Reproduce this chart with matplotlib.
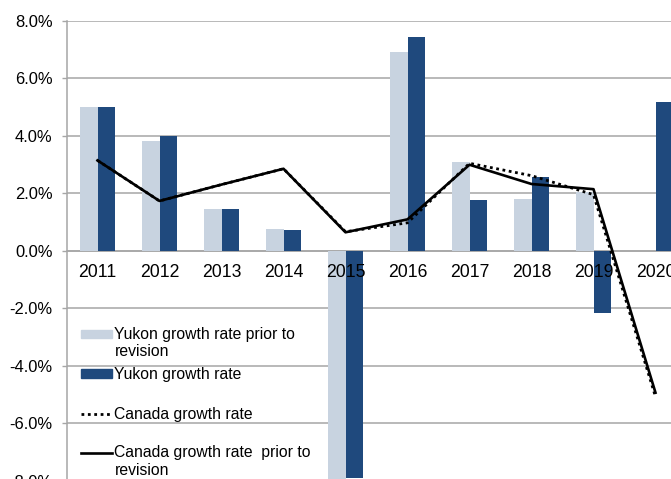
import numpy as np
import matplotlib
matplotlib.use("Agg")
import matplotlib.pyplot as plt
from matplotlib.patches import Rectangle
from matplotlib.lines import Line2D
from matplotlib.ticker import FuncFormatter, MultipleLocator

plt.rcParams['font.family'] = ['Liberation Sans', 'DejaVu Sans']

years = ['2011', '2012', '2013', '2014', '2015', '2016', '2017', '2018', '2019', '2020']
yukon_prior = [5.0, 3.80, 1.44, 0.74, -8.0, 6.90, 3.09, 1.79, 2.05, np.nan]
yukon = [5.0, 3.99, 1.44, 0.72, -7.9, 7.42, 1.76, 2.55, -2.15, 5.17]
canada = [3.14, 1.73, 2.30, 2.85, 0.66, 0.97, 3.04, 2.61, 1.95, -5.08]
canada_prior = [3.14, 1.73, 2.30, 2.85, 0.64, 1.09, 2.99, 2.32, 2.14, -4.94]

labels = ['Yukon growth rate prior to\nrevision', 'Yukon growth rate',
          'Canada growth rate', 'Canada growth rate  prior to\nrevision']

light = '#C8D3E0'
dark = '#1F497D'
grid_c = '#A6A6A6'

W, H = 671, 479
fig = plt.figure(figsize=(W / 100, H / 100), dpi=100)
ax = fig.add_axes([66.5 / W, (H - 480.7) / H, 620 / W, 460 / H])

x = np.arange(len(years))
bw = 0.28
ax.bar(x - bw / 2, yukon_prior, width=bw, color=light, zorder=2)
ax.bar(x + bw / 2, yukon, width=bw, color=dark, zorder=2)
ax.plot(x, canada, color='black', lw=2.0, linestyle=(0, (1, 1.3)), zorder=3)
ax.plot(x, canada_prior, color='black', lw=1.9, zorder=4)

ax.set_xlim(-0.5, len(years) - 0.5)
ax.set_ylim(-8, 8)
ax.yaxis.set_major_locator(MultipleLocator(2))
ax.yaxis.set_major_formatter(FuncFormatter(lambda v, p: f"{v:.1f}%"))
ax.grid(axis='y', color=grid_c, lw=1.1, zorder=0)
ax.set_axisbelow(True)
ax.xaxis.set_zorder(2.5)

for s in ['top', 'right']:
    ax.spines[s].set_visible(False)
ax.spines['bottom'].set_position(('data', 0))
ax.spines['bottom'].set_color(grid_c)
ax.spines['bottom'].set_linewidth(1.1)
ax.spines['bottom'].set_zorder(1)
ax.spines['left'].set_color(grid_c)
ax.spines['left'].set_linewidth(1.1)

ax.set_xticks(x)
ax.set_xticklabels(years)
ax.tick_params(axis='x', length=0, pad=9.5, labelsize=12.7, colors='black')
ax.tick_params(axis='y', length=3.6, width=1.0, color=grid_c, pad=6.5,
               labelsize=11.9, labelcolor='black')

# manual legend (Excel-style, handles aligned with first line)
def fx(px):
    return px / W

def fy(py):
    return 1 - py / H

lfs = 11.3
fig.patches.append(Rectangle((fx(81), fy(338)), fx(112) - fx(81), fy(330) - fy(338),
                             transform=fig.transFigure, color=light, figure=fig))
fig.patches.append(Rectangle((fx(81), fy(377.5)), fx(112) - fx(81), fy(369.3) - fy(377.5),
                             transform=fig.transFigure, color=dark, figure=fig))
fig.lines.append(Line2D([fx(81), fx(112)], [fy(414), fy(414)], transform=fig.transFigure,
                        color='black', lw=2.0, linestyle=(0, (1, 1.3)), figure=fig))
fig.lines.append(Line2D([fx(81), fx(112)], [fy(452.5), fy(452.5)], transform=fig.transFigure,
                        color='black', lw=1.9, figure=fig))
fig.text(fx(114.5), fy(343), labels[0], fontsize=lfs, va='center', ha='left')
fig.text(fx(114.5), fy(374), labels[1], fontsize=lfs, va='center', ha='left')
fig.text(fx(114.5), fy(414), labels[2], fontsize=lfs, va='center', ha='left')
fig.text(fx(114.5), fy(461.5), labels[3], fontsize=lfs, va='center', ha='left')

fig.savefig('out.png', dpi=100)
